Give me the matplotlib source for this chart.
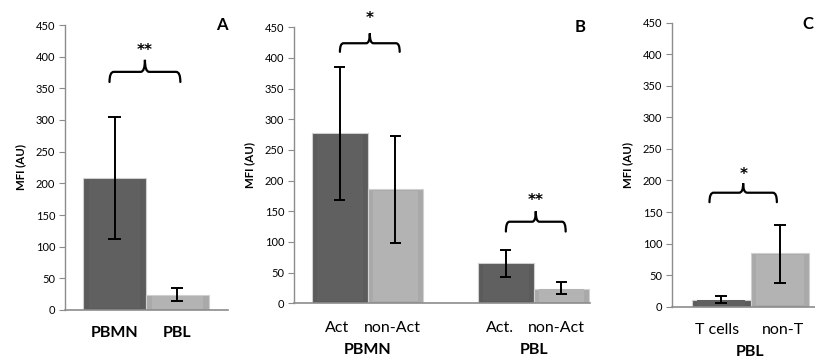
import matplotlib
matplotlib.use("Agg")
import matplotlib.pyplot as plt
from matplotlib.path import Path
from matplotlib.patches import PathPatch
import numpy as np

plt.rcParams['font.family'] = ['Lato', 'DejaVu Sans']

# ---------------- data ----------------
a_labels = ["PBMN", "PBL"]
a_values = [208, 23]
a_err_low = [112, 15]
a_err_high = [304, 35]

b_groups = ["PBMN", "PBL"]
b_sub = ["Act", "non-Act", "Act.", "non-Act"]
b_act = [278, 65]
b_act_low = [168, 43]
b_act_high = [386, 87]
b_non = [186, 24]
b_non_low = [99, 15]
b_non_high = [273, 34]

c_labels = ["T cells", "non-T"]
c_group = "PBL"
c_values = [10.6, 84.5]
c_err_low = [6, 38]
c_err_high = [17, 129]

yticks = [0, 50, 100, 150, 200, 250, 300, 350, 400, 450]

DARK = "#5b5b5b"
LIGHT = "#a9a9a9"
AXC = "#8c8c8c"

fig = plt.figure(figsize=(8.15, 3.58), dpi=100)


def style_axes(ax):
    for s in ["top", "right"]:
        ax.spines[s].set_visible(False)
    ax.spines["left"].set_color(AXC)
    ax.spines["bottom"].set_color(AXC)
    ax.spines["left"].set_linewidth(1.0)
    ax.spines["bottom"].set_linewidth(1.2)
    ax.set_ylim(0, 450)
    ax.set_yticks(yticks)
    ax.tick_params(axis="y", direction="out", length=4, color=AXC, labelsize=8, pad=3)
    ax.tick_params(axis="x", length=0)
    ax.set_xticks([])
    ax.set_ylabel("MFI (AU)", fontsize=8.3, fontweight="bold", labelpad=7)
    ax.patch.set_alpha(0)


def bevel_bars(ax, x, h, color, w=1.0):
    bars = ax.bar(x, h, width=w, color=color, edgecolor="#d0d0d0", linewidth=0.8, zorder=2)
    lighter = [min(1, c * 1.06) for c in matplotlib.colors.to_rgb(color)]
    hh = np.asarray(h, dtype=float)
    ax.bar(x, hh - np.minimum(hh * 0.12, 6), width=w * 0.82,
           bottom=np.minimum(hh * 0.06, 3), color=lighter, linewidth=0, zorder=2.5)
    return bars


def errbars(ax, x, low, high):
    ax.vlines(x, low, high, color="black", lw=1.4, zorder=4)
    ax.hlines(low, np.asarray(x) - 0.1, np.asarray(x) + 0.1, color="black", lw=1.4, zorder=4)
    ax.hlines(high, np.asarray(x) - 0.1, np.asarray(x) + 0.1, color="black", lw=1.4, zorder=4)


def brace(ax, x1, x2, y, drop, tip, stars, star_y, fs=11):
    xm = (x1 + x2) / 2
    r = (x2 - x1) * 0.06
    verts = [(x1, y - drop), (x1, y), (x1 + r, y),
             (xm - r, y), (xm, y), (xm, y + tip),
             (xm, y), (xm + r, y),
             (x2 - r, y), (x2, y), (x2, y - drop)]
    codes = [Path.MOVETO, Path.CURVE3, Path.CURVE3,
             Path.LINETO, Path.CURVE3, Path.CURVE3,
             Path.CURVE3, Path.CURVE3,
             Path.LINETO, Path.CURVE3, Path.CURVE3]
    ax.add_patch(PathPatch(Path(verts, codes), fill=False, lw=1.6, color="black",
                           zorder=5, clip_on=False, capstyle="round"))
    ax.text(xm, star_y, stars, ha="center", va="center", fontsize=fs,
            fontweight="bold", clip_on=False, family="DejaVu Sans")


CAT_FS = 11.5

# ---------------- Panel A ----------------
axA = fig.add_axes([65 / 815, 1 - 310 / 358, 163 / 815, 285 / 358])
style_axes(axA)
xa = np.arange(len(a_labels))
bevel_bars(axA, xa[0:1], a_values[0:1], DARK)
bevel_bars(axA, xa[1:2], a_values[1:2], LIGHT)
errbars(axA, xa, a_err_low, a_err_high)
axA.set_xlim(-0.79, 1.81)
brace(axA, -0.08, 1.05, 376, 16, 19, "**", 410)
for xi, lab in zip(xa, a_labels):
    axA.text(xi, -36, lab, ha="center", va="center", fontsize=CAT_FS, fontweight="bold")
axA.text(1.0, 1.0, "A", transform=axA.transAxes, ha="right", va="center",
         fontsize=12, fontweight="bold")

# ---------------- Panel B ----------------
axB = fig.add_axes([294 / 815, 1 - 303.3 / 358, 296 / 815, 276 / 358])
style_axes(axB)
gx = np.array([0.0, 3.0])
bevel_bars(axB, gx - 0.5, b_act, DARK)
bevel_bars(axB, gx + 0.5, b_non, LIGHT)
errbars(axB, gx - 0.5, b_act_low, b_act_high)
errbars(axB, gx + 0.5, b_non_low, b_non_high)
axB.set_xlim(-1.33, 4.02)
brace(axB, -0.5, 0.58, 424, 14, 16, "*", 465)
brace(axB, 2.5, 3.58, 133, 16, 17, "**", 168)
sub_x = [gx[0] - 0.55, gx[0] + 0.45, gx[1] - 0.6, gx[1] + 0.42]
for xs, lab in zip(sub_x, b_sub):
    axB.text(xs, -40, lab, ha="center", va="center", fontsize=CAT_FS)
for xg, lab in zip(gx, b_groups):
    axB.text(xg, -76, lab, ha="center", va="center", fontsize=CAT_FS, fontweight="bold")
axB.text(0.985, 1.0, "B", transform=axB.transAxes, ha="right", va="center",
         fontsize=12, fontweight="bold")

# ---------------- Panel C ----------------
axC = fig.add_axes([672 / 815, 1 - 306.7 / 358, 157 / 815, 284 / 358])
style_axes(axC)
xc = np.arange(len(c_labels))
bevel_bars(axC, xc[0:1], c_values[0:1], DARK)
bevel_bars(axC, xc[1:2], c_values[1:2], LIGHT)
errbars(axC, xc, c_err_low, c_err_high)
axC.set_xlim(-0.84, 1.84)
brace(axC, -0.2, 0.95, 180.6, 15, 15, "*", 209)
c_x = [-0.07, 1.05]
for xs, lab in zip(c_x, c_labels):
    axC.text(xs, -37, lab, ha="center", va="center", fontsize=CAT_FS)
axC.text(0.5, -71, c_group, ha="center", va="center", fontsize=CAT_FS, fontweight="bold")
fig.text(813 / 815, 1 - 24 / 358, "C", ha="right", va="center",
         fontsize=12, fontweight="bold")

fig.savefig("out.png", dpi=100)
